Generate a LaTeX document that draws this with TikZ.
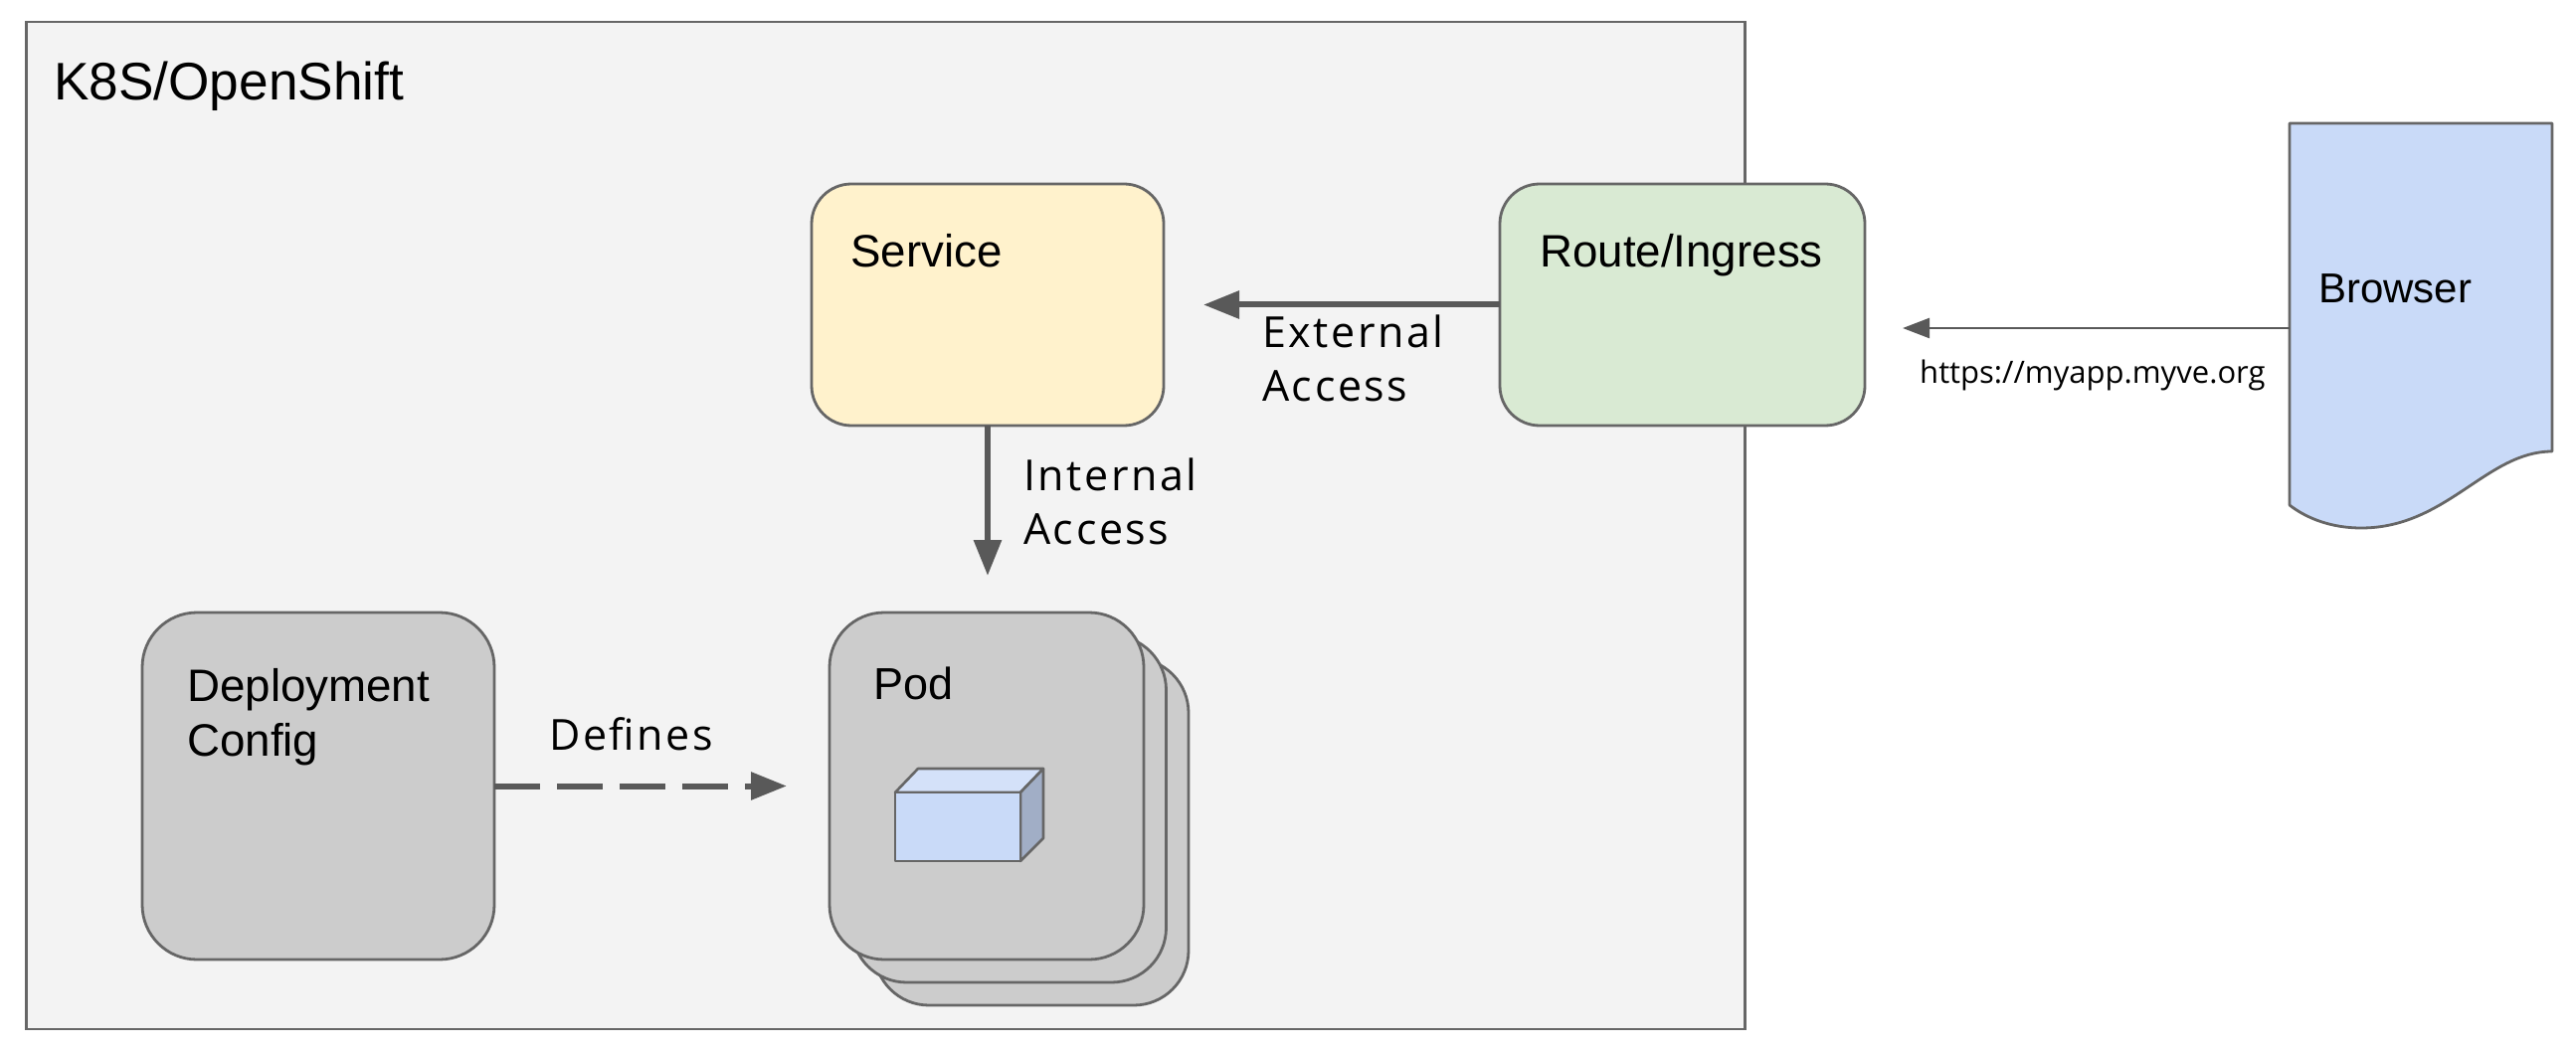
\documentclass[tikz,border=0pt]{standalone}
\usepackage{fontspec}
\setmainfont{Liberation Sans}
\newfontfamily\labfont[LetterSpace=6]{Open Sans}
\newfontfamily\urlfont{Open Sans}
\usetikzlibrary{arrows.meta}
\definecolor{edge}{HTML}{666666}
\definecolor{conn}{HTML}{595959}
\definecolor{panel}{HTML}{F3F3F3}
\definecolor{svcfill}{HTML}{FFF2CC}
\definecolor{routefill}{HTML}{D9EAD3}
\definecolor{greyfill}{HTML}{CCCCCC}
\definecolor{bluefill}{HTML}{C9DAF8}
\definecolor{bluetop}{HTML}{D4E1F9}
\definecolor{blueside}{HTML}{A1AEC6}
\tikzset{
  x=1pt,y=-1pt,
  box/.style={draw=edge,line width=2.8pt,rounded corners=#1,inner sep=0pt,outer sep=0pt,anchor=north west},
  box/.default=40pt,
  title/.style={anchor=base west,inner sep=0pt,text=black,font=\fontsize{45.7}{54.5}\selectfont,align=left},
  lab/.style={anchor=base west,inner sep=0pt,text=black,font=\labfont\fontsize{43}{54}\selectfont,align=left},
  bigarrow/.style={draw=conn,line width=6pt,-{Triangle[length=36pt,width=27pt]}},
  smallarrow/.style={draw=conn,line width=2.5pt,-{Triangle[length=27pt,width=20pt]}},
  cubeface/.style={draw=edge,line width=2.6pt,line join=round},
}
\begin{document}
\begin{tikzpicture}
\useasboundingbox (0,0) rectangle (2590,1056);
% frame
\node[draw=edge,line width=2.8pt,fill=panel,inner sep=0pt,outer sep=0pt,minimum width=1728pt,minimum height=1013pt,anchor=north west] (frame) at (26.5,22) {};
\node[title,font=\fontsize{53.2}{60}\selectfont] (frametitle) at (54,101) {K8S/OpenShift};
% service
\node[box,fill=svcfill,minimum width=354pt,minimum height=243pt] (service) at (816,185) {};
\node[title] (servicetext) at (855,269) {Service};
% route
\node[box,fill=routefill,minimum width=367pt,minimum height=243pt] (route) at (1508,185) {};
\node[title] (routetext) at (1548,269) {Route/Ingress};
% deployment
\node[box=55pt,fill=greyfill,minimum width=354pt,minimum height=349pt] (deploy) at (143,616) {};
\node[title,anchor=north west] (deploytext) at (188,672.5) {Deployment\\Config};
% pods
\node[box=55pt,fill=greyfill,minimum width=316pt,minimum height=349pt] (podc) at (879,662) {};
\node[box=55pt,fill=greyfill,minimum width=316pt,minimum height=349pt] (podb) at (856.5,639) {};
\node[box=55pt,fill=greyfill,minimum width=316pt,minimum height=349pt] (poda) at (834,616) {};
\node[title,font=\fontsize{45}{50}\selectfont] (podtext) at (878,703) {Pod};
% cube
\draw[cubeface,fill=bluetop] (900,797) -- (923,773) -- (1049,773) -- (1026,797) -- cycle;
\draw[cubeface,fill=blueside] (1026,797) -- (1049,773) -- (1049,843) -- (1026,866) -- cycle;
\draw[cubeface,fill=bluefill] (900,797) rectangle (1026,866);
% browser
\draw[draw=edge,line width=2.8pt,line join=round,fill=bluefill]
  (2302,124) -- (2566,124) -- (2566,454) .. controls (2500,454) and (2460,531) .. (2374,531)
  .. controls (2345,531) and (2320,522) .. (2302,508) -- cycle;
\node[title,font=\fontsize{42}{50}\selectfont] (browsertext) at (2331,305) {Browser};
% connectors
\coordinate (browserport) at (2302,330);
\coordinate (browsertip) at (1913,330);
\coordinate (routetip) at (1210,306.5);
\coordinate (servicetip) at (993,579);
\coordinate (deploytip) at (791,790.5);
\draw[smallarrow] (browserport) -- (browsertip);
\draw[bigarrow] (route.west) -- (routetip);
\draw[bigarrow] (service.south) -- (servicetip);
\draw[bigarrow,dash pattern=on 46pt off 17pt] (deploy.east) -- (deploytip);
% labels
\node[lab,anchor=north west] (extlabel) at (1269,317) {External\\Access};
\node[lab,anchor=north west] (intlabel) at (1029,461) {Internal\\Access};
\node[lab] (deflabel) at (552,754) {Defines};
\node[anchor=base west,inner sep=0pt,font=\urlfont\fontsize{31}{36}\selectfont] (urllabel) at (1930,385) {https://myapp.myve.org};
\end{tikzpicture}
\end{document}
